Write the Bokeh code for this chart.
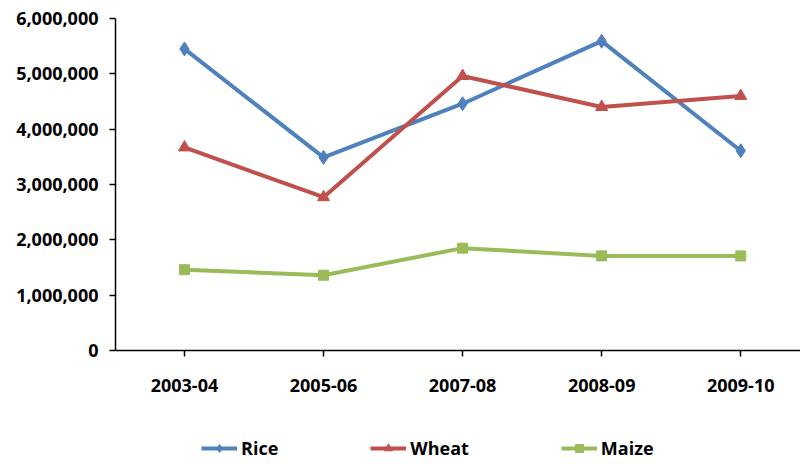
from bokeh.plotting import figure
from bokeh.layouts import column
from bokeh.models import Range1d, FixedTicker, NumeralTickFormatter, Legend, LegendItem
from bokeh.embed import file_html
from bokeh.resources import INLINE

years = ["2003-04", "2005-06", "2007-08", "2008-09", "2009-10"]
rice = [5450000, 3490000, 4460000, 5590000, 3610000]
wheat = [3670000, 2770000, 4960000, 4400000, 4600000]
maize = [1460000, 1360000, 1850000, 1710000, 1710000]
y_ticks = [0, 1000000, 2000000, 3000000, 4000000, 5000000, 6000000]

xs = list(range(len(years)))

series = [
    ("Rice", rice, "#4F81BD", "diamond", 14),
    ("Wheat", wheat, "#C0504D", "triangle", 12),
    ("Maize", maize, "#9BBB59", "square", 10),
]

p = figure(frame_width=685, frame_height=332, output_backend="svg", toolbar_location=None,
           x_range=Range1d(-0.496, 4.43), y_range=Range1d(0, 6000000),
           min_border_left=115, min_border_right=0, min_border_top=18, min_border_bottom=60)
p.outline_line_color = None
p.grid.visible = False

for name, vals, col, mk, sz in series:
    p.line(xs, vals, line_color=col, line_width=4)
    p.scatter(xs, vals, marker=mk, size=sz, fill_color=col, line_color=col)

p.yaxis.ticker = FixedTicker(ticks=y_ticks)
p.yaxis.formatter = NumeralTickFormatter(format="0,0")
p.xaxis.ticker = FixedTicker(ticks=xs)
p.xaxis.major_label_overrides = {i: y for i, y in enumerate(years)}

for ax in (p.xaxis[0], p.yaxis[0]):
    ax.axis_line_color = "black"
    ax.axis_line_width = 1.5
    ax.major_tick_line_color = "black"
    ax.major_tick_line_width = 1.5
    ax.major_tick_out = 6
    ax.major_tick_in = 0
    ax.minor_tick_line_color = None
    ax.major_label_text_font = "Open Sans"
    ax.major_label_text_font_style = "bold"
    ax.major_label_text_font_size = "18px"
    ax.major_label_text_color = "black"

p.yaxis.major_label_standoff = 11
p.xaxis.major_label_standoff = 22

# legend strip: same series drawn off-view, only the legend is visible
lg = figure(width=800, height=54, output_backend="svg", toolbar_location=None,
            x_range=Range1d(-0.496, 4.43), y_range=Range1d(-2000000, -1000000),
            min_border=0)
lg.outline_line_color = None
lg.grid.visible = False
lg.axis.visible = False
items = []
for name, vals, col, mk, sz in series:
    l = lg.line(xs, vals, line_color=col, line_width=4)
    s = lg.scatter(xs, vals, marker=mk, size=9, fill_color=col, line_color=col)
    items.append(LegendItem(label=name, renderers=[l, s]))

legend = Legend(items=items, orientation="horizontal", location=(86, 4),
                spacing=92, glyph_width=36, glyph_height=20, label_standoff=4, padding=0,
                border_line_color=None, background_fill_alpha=0,
                label_text_font="Open Sans", label_text_font_style="bold",
                label_text_font_size="18px", label_text_color="black",
                margin=0)
lg.add_layout(legend, "center")

layout = column(p, lg, spacing=0)
open("out.html", "w").write(file_html(layout, INLINE))
